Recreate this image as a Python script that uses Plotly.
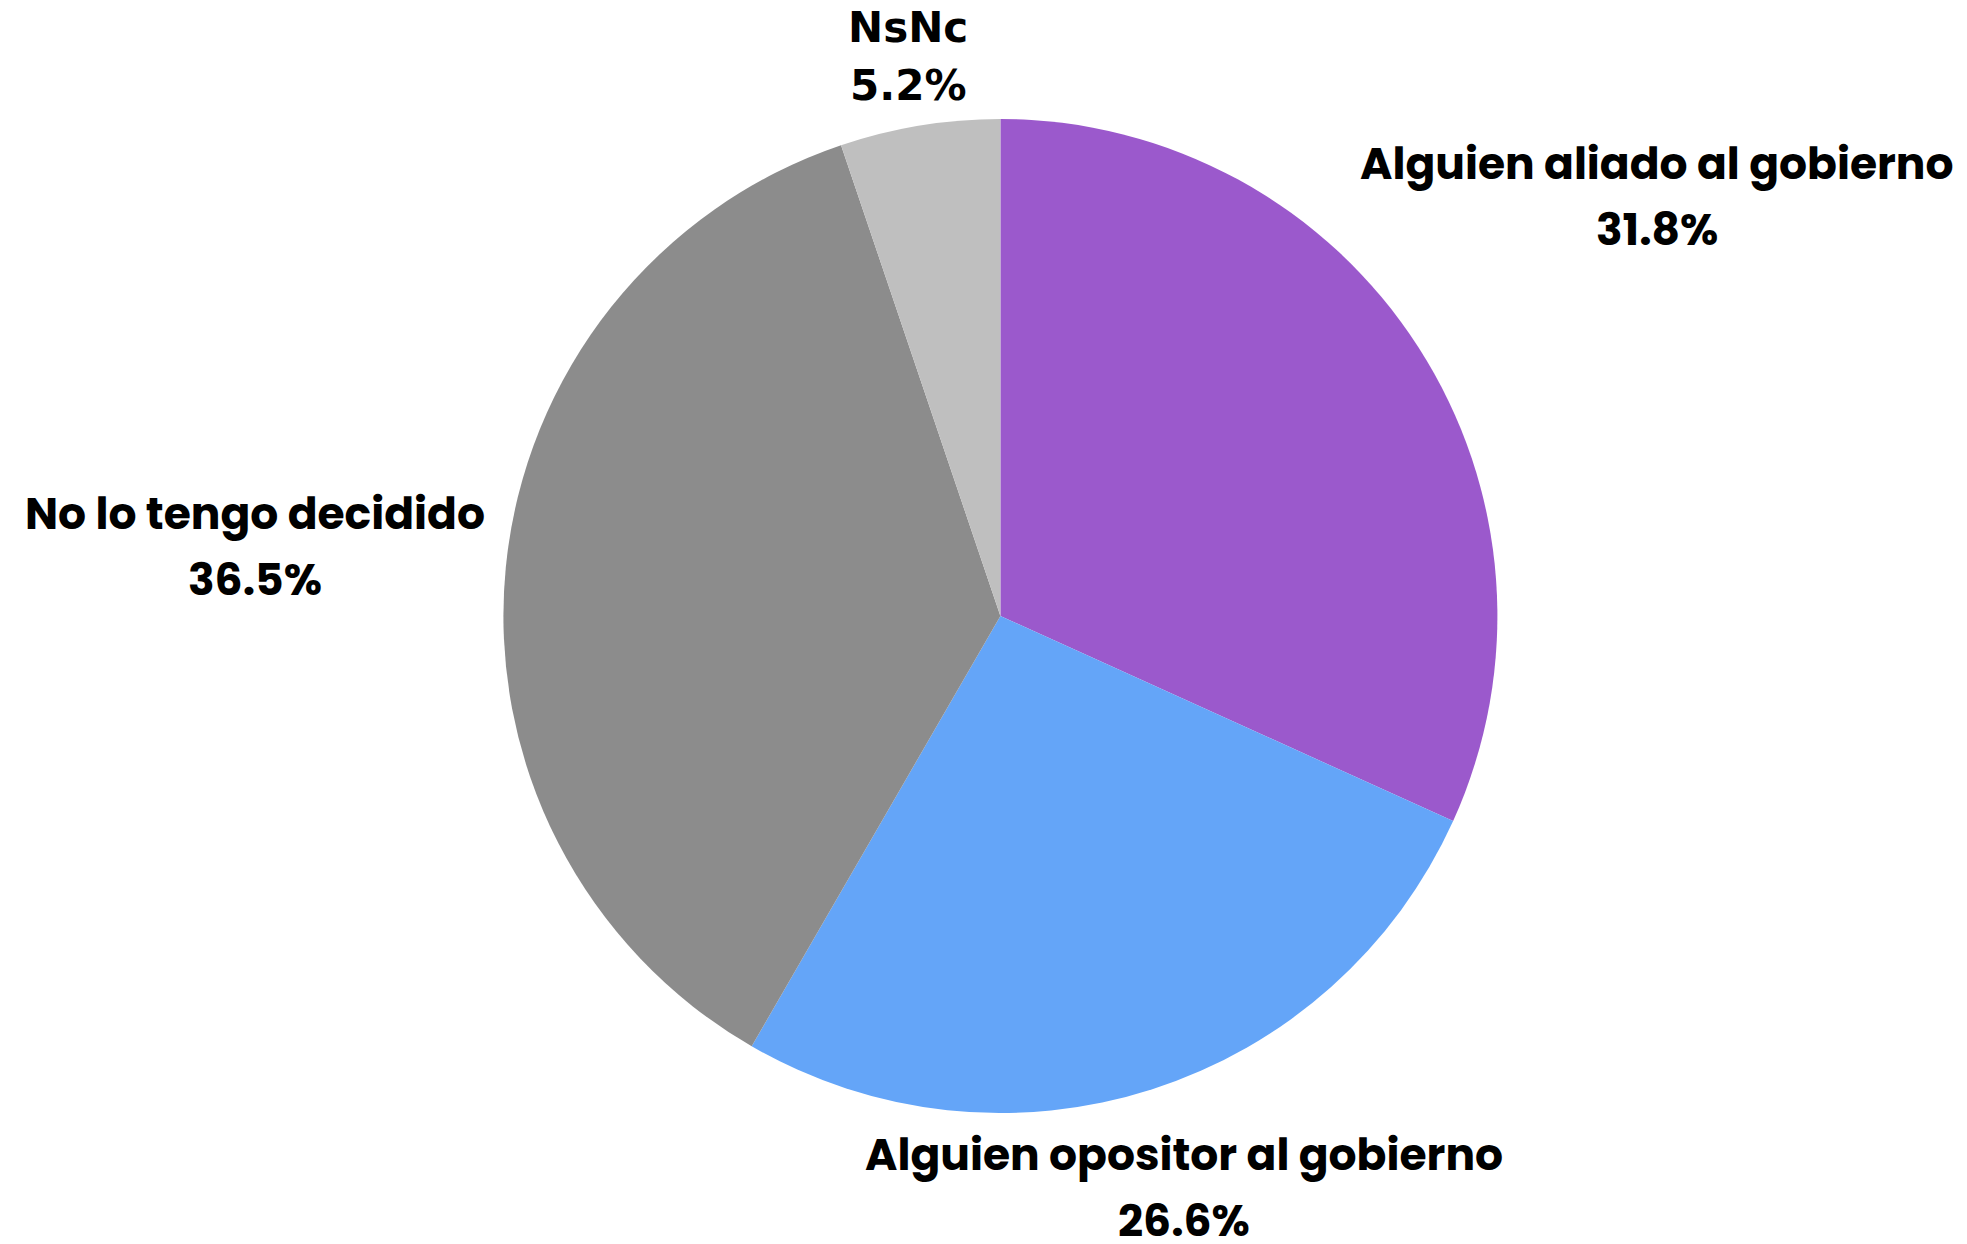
import math
import plotly.graph_objects as go

labels = ["Alguien aliado al gobierno", "Alguien opositor al gobierno", "No lo tengo decidido", "NsNc"]
values = [31.8, 26.6, 36.5, 5.2]
colors = ["#9b59cc", "#64a5f8", "#8c8c8c", "#bfbfbf"]

# label block placement along each slice's mid angle (in pie radii),
# half line gap and a small vertical nudge (px)
LABEL_DIST = [1.571, 1.208, 1.508, 1.142]
LABEL_HALF_GAP = [33, 33, 33, 29]
LABEL_NUDGE = [4, 0, 4, 1]
POPPINS = dict(family="Poppins, Lato, Open Sans, sans-serif", size=44, color="black")
HEAVY = dict(family="DejaVu Sans, Liberation Sans, Arial, sans-serif", size=42, color="black")
LABEL_FONT = [POPPINS, POPPINS, POPPINS, HEAVY]

# page has an 8px body margin, so the figure is 16px smaller than the window
PAD = 8
W, H = 1967 - 2 * PAD, 1244 - 2 * PAD
CX, CY, R = 1000.4 - PAD, 616 - PAD, 497

fig = go.Figure(go.Pie(
    labels=labels,
    values=values,
    sort=False,
    direction="clockwise",
    rotation=0,
    marker=dict(colors=colors, line=dict(width=0)),
    textposition="none",
    hoverinfo="label+percent",
    showlegend=False,
    domain=dict(x=[(CX - R) / W, (CX + R) / W], y=[(H - CY - R) / H, (H - CY + R) / H]),
))

total = sum(values)
cum = 0
for lab, val, k, g, n, f in zip(labels, values, LABEL_DIST, LABEL_HALF_GAP, LABEL_NUDGE, LABEL_FONT):
    mid = (cum + val / 2) / total * 2 * math.pi
    cum += val
    lx = CX + k * R * math.sin(mid)
    ly = CY - k * R * math.cos(mid) + n
    for text, dy in ((f"<b>{lab}</b>", -g), (f"<b>{val:.1f}%</b>", g)):
        fig.add_annotation(
            x=lx / W, y=1 - (ly + dy) / H, xref="paper", yref="paper",
            text=text, showarrow=False, xanchor="center", yanchor="middle",
            font=f,
        )

fig.update_layout(
    width=W, height=H,
    paper_bgcolor="white",
    plot_bgcolor="white",
    margin=dict(l=0, r=0, t=0, b=0),
)

fig.write_html("out.html")
